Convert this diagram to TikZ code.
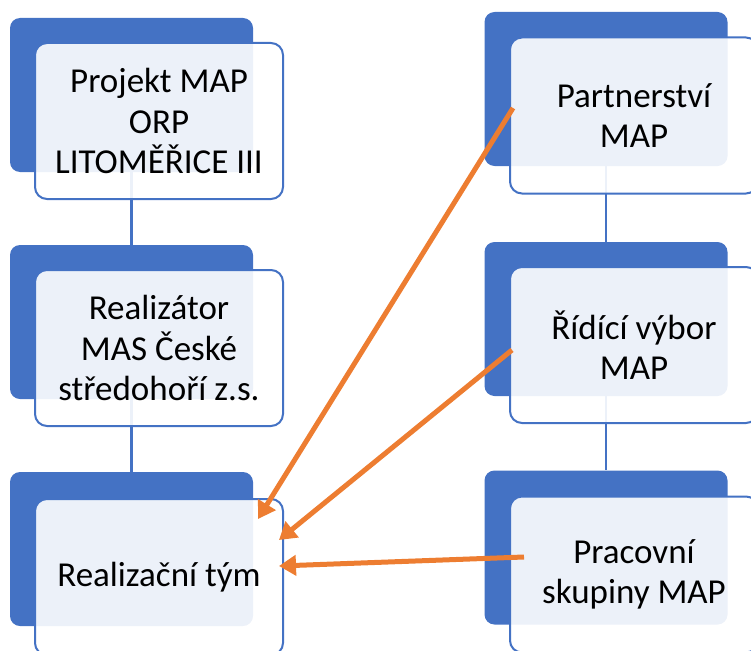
\documentclass[tikz,border=0pt]{standalone}
\usepackage{fontspec}
\setmainfont{Carlito}
\usetikzlibrary{arrows.meta}
\definecolor{mapblue}{HTML}{4472C4}
\definecolor{maporange}{HTML}{ED7D31}
\tikzset{
    backbox/.style = {rectangle, rounded corners=10pt, fill=mapblue, minimum width=243pt, minimum height=154pt, inner sep=0},
    frontbox/.style = {rectangle, rounded corners=12pt, draw=mapblue, line width=2pt, fill=white, fill opacity=0.9, text opacity=1, text=black, minimum width=248pt, minimum height=156pt, inner sep=0, align=center, font=\fontsize{35}{40.5}\selectfont},
    linkn/.style = {-, line width=2.5pt, mapblue},
    edgeo/.style = {-{Triangle[length=17pt,width=20pt]}, line width=5pt, maporange}, % to team
}

\begin{document}
\begin{tikzpicture}[x=1pt,y=-1pt]
\useasboundingbox (0,0) rectangle (751,650);

\node[backbox] at (131.5, 95.0) (b1) {};
\node[backbox] at (131.5,322.0) (b2) {};
\node[backbox] at (131.5,549.0) (b3) {};
\node[backbox] at (606.0, 89.0) (b4) {};
\node[backbox] at (606.0,319.0) (b5) {};
\node[backbox] at (606.0,547.5) (b6) {};

\draw[linkn] (b1.south) -- (b2.north);
\draw[linkn] (b2.south) -- (b3.north);
\draw[linkn] (b4.south) -- (b5.north);
\draw[linkn] (b5.south) -- (b6.north);

\node[frontbox] at (159.0,121.0) (f1) {Projekt MAP\\ORP\\LITOMĚŘICE III};
\node[frontbox] at (159.0,348.0) (f2) {Realizátor\\MAS České\\středohoří z.s.};
\node[frontbox] at (159.0,577.0) (f3) {Realizační tým};
\node[frontbox] at (634.0,115.5) (f4) {Partnerství\\MAP};
\node[frontbox] at (634.0,345.0) (f5) {Řídící výbor\\MAP};
\node[frontbox] at (634.0,574.5) (f6) {Pracovní\\skupiny MAP};

\draw[edgeo] ([xshift=4pt,yshift=7.5pt]f4.west) -- ([xshift=-26pt,yshift=-21pt]f3.north east);
\draw[edgeo] ([xshift=3pt,yshift=-5pt]f5.west) -- ([xshift=-5pt,yshift=37pt]f3.east);
\draw[edgeo] ([xshift=15pt,yshift=17.5pt]f6.west) -- ([xshift=-5pt,yshift=11pt]f3.east);

\end{tikzpicture}
\end{document}
